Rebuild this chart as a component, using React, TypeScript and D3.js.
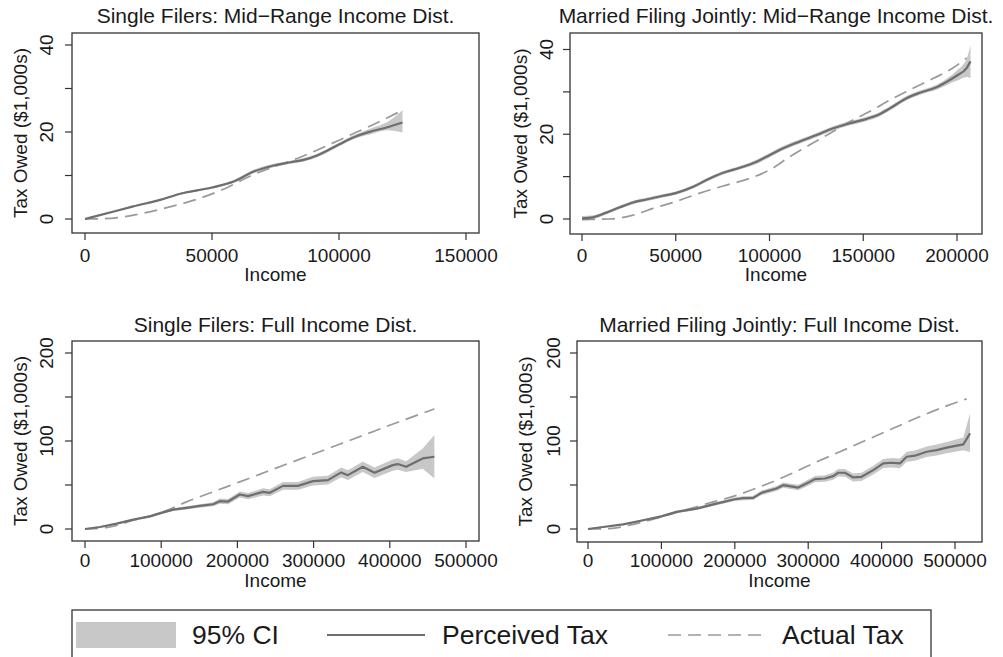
import React from "react";
import * as d3 from "d3";

// ---------- DATA ----------
// Panel 1: Single Filers, Mid-Range
const p1Income = [0, 9870, 19000, 29600, 37500, 50000, 58500, 66400, 74300, 80900, 86100, 91400, 100200, 105900, 112500, 119000, 125000];
const p1Perceived = [0, 1.5, 2.9, 4.4, 5.8, 7.25, 8.6, 10.9, 12.3, 13.05, 13.6, 14.6, 17.2, 18.8, 20.1, 21.1, 22.2];
const p1Lower = [-0.2, 1.3, 2.7, 4.2, 5.6, 7.0, 8.3, 10.5, 11.9, 12.7, 13.2, 14.2, 16.8, 18.4, 19.5, 20.4, 19.9];
const p1Upper = [0.2, 1.7, 3.1, 4.6, 6.0, 7.5, 8.9, 11.3, 12.7, 13.4, 14.0, 15.0, 17.6, 19.3, 20.8, 22.3, 25.0];
const p1ActualIncome = [0, 10000, 21650, 32200, 45400, 55900, 65100, 75700, 83500, 92800, 103300, 113800, 124300];
const p1Actual = [0, 0.15, 1.2, 2.6, 4.8, 7.2, 9.9, 12.3, 13.9, 16.2, 19.0, 21.8, 24.8];

// Panel 2: Married Filing Jointly, Mid-Range
const p2Income = [0, 5900, 13000, 20100, 27200, 34300, 41500, 50000, 59300, 66400, 75300, 84200, 93100, 100200, 107300, 116200, 125100, 134000, 142900, 150000, 157100, 164200, 173100, 180200, 189100, 195000, 199800, 205100, 207200];
const p2Perceived = [0.15, 0.4, 1.5, 2.75, 3.9, 4.6, 5.3, 6.1, 7.6, 9.2, 10.9, 12.1, 13.5, 15.1, 16.7, 18.3, 19.8, 21.4, 22.6, 23.4, 24.4, 26.1, 28.5, 29.8, 31.1, 32.5, 33.8, 35.6, 37.2];
const p2Lower = [-0.4, -0.1, 1.1, 2.35, 3.5, 4.2, 4.9, 5.7, 7.2, 8.8, 10.5, 11.7, 13.0, 14.6, 16.2, 17.8, 19.3, 20.9, 22.1, 22.9, 23.9, 25.6, 28.0, 29.3, 30.5, 31.7, 32.6, 33.5, 33.2];
const p2Upper = [0.7, 0.9, 1.9, 3.15, 4.3, 5.0, 5.7, 6.5, 8.0, 9.6, 11.3, 12.5, 14.0, 15.6, 17.2, 18.8, 20.3, 21.9, 23.1, 23.9, 24.9, 26.6, 29.0, 30.3, 31.7, 33.3, 35.0, 37.8, 41.0];
const p2ActualIncome = [0, 14800, 27200, 37900, 50000, 62800, 77000, 89500, 100200, 110800, 121500, 132200, 142900, 153600, 164200, 174900, 187400, 196300, 205100];
const p2Actual = [-0.1, 0, 0.9, 2.5, 4.1, 6.1, 8.0, 9.6, 11.6, 14.7, 17.5, 20.2, 23.0, 25.4, 28.1, 30.5, 33.2, 35.2, 38.0];

// Panel 3: Single Filers, Full
const p3Income = [0, 19700, 41500, 63300, 85200, 100000, 115700, 133200, 150700, 168100, 176900, 187800, 203100, 214000, 233600, 242400, 259800, 279500, 299100, 318800, 336200, 345000, 364600, 379900, 403900, 410500, 421400, 443200, 458500];
const p3Perceived = [0, 2.3, 6.1, 10.6, 14.4, 18.3, 22, 24, 26.2, 28.1, 31.6, 31.2, 39.2, 37.3, 42.2, 41.1, 49, 49, 54.4, 55.5, 64.3, 61.2, 70.7, 63.9, 72.6, 73.8, 70.7, 80.2, 82.1];
const p3Lower = [-0.3, 1.8, 5.3, 9.6, 13.2, 16.8, 20.5, 22.2, 24.2, 25.8, 28.6, 28.2, 35.7, 33.8, 38.2, 37.1, 44.5, 44.5, 49.4, 50.5, 58.8, 55.7, 64.7, 57.9, 66.1, 67.3, 64.7, 68.5, 57.4];
const p3Upper = [0.3, 2.8, 6.9, 11.6, 15.6, 19.8, 23.5, 25.8, 28.2, 30.4, 34.6, 34.2, 42.7, 40.8, 46.2, 45.1, 53.5, 53.5, 59.4, 60.5, 69.8, 66.7, 76.7, 69.9, 79.1, 80.3, 77.1, 91.5, 106.8];
const p3ActualIncome = [0, 32800, 63300, 100000, 133200, 168100, 203100, 238000, 272900, 307900, 342800, 377700, 412700, 458500];
const p3Actual = [0, 2.3, 9.9, 18.6, 30.8, 42.2, 53.6, 65, 76.4, 87.8, 99.2, 110.6, 122, 136.5];

// Panel 4: Married Filing Jointly, Full
const p4Income = [0, 20500, 47700, 75000, 100000, 120500, 147700, 175000, 200000, 211400, 225000, 236400, 256800, 265900, 286400, 297700, 309100, 322700, 334100, 340900, 350000, 361400, 372700, 388600, 402300, 413600, 425000, 434100, 445500, 461400, 475000, 488600, 511400, 520500];
const p4Perceived = [0, 2.3, 5.3, 9.9, 14.4, 19.4, 23.2, 28.9, 33.8, 35, 35.4, 41.1, 46, 49.8, 47.1, 51.7, 56.7, 57.4, 60.1, 63.9, 63.9, 58.6, 59.3, 66.9, 74.5, 75.3, 74.5, 82.1, 83.3, 87.8, 89.7, 92.4, 96.2, 108.7];
const p4Lower = [-0.4, 1.7, 4.5, 8.9, 13.2, 18.0, 21.6, 27.1, 31.8, 32.8, 33.0, 38.5, 43.2, 46.8, 43.9, 48.3, 53.1, 53.6, 56.1, 59.7, 59.5, 54.1, 54.6, 62.0, 69.4, 70.0, 69.0, 76.4, 77.5, 81.8, 83.5, 86.0, 89.5, 87.5];
const p4Upper = [0.4, 2.9, 6.1, 10.9, 15.6, 20.8, 24.8, 30.7, 35.8, 37.2, 37.8, 43.7, 48.8, 52.8, 50.3, 55.1, 60.3, 61.2, 64.1, 68.1, 68.3, 63.1, 64.0, 71.8, 79.6, 80.6, 80.0, 87.8, 89.1, 93.8, 95.9, 98.8, 104.0, 131.5];
const p4ActualIncome = [0, 29500, 61400, 100000, 134100, 170500, 200000, 234100, 270500, 306800, 343200, 379500, 415900, 452300, 488600, 515900];
const p4Actual = [0, 0.4, 5.3, 13.7, 22, 30.8, 37.6, 47.9, 60.5, 74.5, 87.8, 101.1, 114.4, 127.8, 139.9, 147.9];

const titles = [
  "Single Filers: Mid\u2212Range Income Dist.",
  "Married Filing Jointly: Mid\u2212Range Income Dist.",
  "Single Filers: Full Income Dist.",
  "Married Filing Jointly: Full Income Dist.",
];
const xTicksMid1 = [0, 50000, 100000, 150000];
const xTicksMid2 = [0, 50000, 100000, 150000, 200000];
const xTicksFull = [0, 100000, 200000, 300000, 400000, 500000];
const yMajorMid = [0, 20, 40];
const yMinorMid = [10, 30];
const yMajorFull = [0, 100, 200];
const yMinorFull = [50, 150];
const legendLabels = ["95% CI", "Perceived Tax", "Actual Tax"];

// ---------- STYLE ----------
const FONT = "'Liberation Sans', Arial, Helvetica, sans-serif";
const TXT = "#1a1a1a";
const AXIS = "#333";
const CI_FILL = "#c8c8c8";
const PERC = "#6e6e6e";
const ACT = "#9a9a9a";
const DASH = "13 7";

type PanelProps = {
  title: string;
  box: { l: number; t: number; r: number; b: number };
  xDom: [number, number];
  xRange: [number, number];
  yDom: [number, number];
  yRange: [number, number];
  xTicks: number[];
  yMajor: number[];
  yMinor: number[];
  income: number[];
  perceived: number[];
  lower: number[];
  upper: number[];
  actInc: number[];
  act: number[];
  smooth: boolean;
  titleY: number;
  tickY: number;
  incomeY: number;
  yLabX: number;
  yTitleX: number;
};

function Panel(p: PanelProps) {
  const x = d3.scaleLinear().domain(p.xDom).range(p.xRange);
  const y = d3.scaleLinear().domain(p.yDom).range(p.yRange);
  const curve = p.smooth ? d3.curveMonotoneX : d3.curveLinear;
  const idx = p.income.map((_, i) => i);
  const area = d3
    .area<number>()
    .x((i) => x(p.income[i]))
    .y0((i) => y(p.lower[i]))
    .y1((i) => y(p.upper[i]))
    .curve(curve);
  const line = d3
    .line<number>()
    .x((i) => x(p.income[i]))
    .y((i) => y(p.perceived[i]))
    .curve(curve);
  const actLine = d3
    .line<number>()
    .x((i) => x(p.actInc[i]))
    .y((i) => y(p.act[i]))
    .curve(d3.curveMonotoneX);
  const actIdx = p.actInc.map((_, i) => i);
  const { l, t, r, b } = p.box;
  const cx = (l + r) / 2;
  const cy = (t + b) / 2;
  return (
    <g>
      <text x={cx} y={p.titleY} textAnchor="middle" fontSize={21} fill={TXT} fontFamily={FONT}>
        {p.title}
      </text>
      <path d={area(idx) || ""} fill={CI_FILL} stroke="none" />
      <path d={actLine(actIdx) || ""} fill="none" stroke={ACT} strokeWidth={1.7} strokeDasharray={DASH} />
      <path d={line(idx) || ""} fill="none" stroke={PERC} strokeWidth={2.2} strokeLinejoin="round" />
      <rect x={l} y={t} width={r - l} height={b - t} fill="none" stroke={AXIS} strokeWidth={1.3} />
      {p.xTicks.map((v) => (
        <g key={"x" + v}>
          <line x1={x(v)} x2={x(v)} y1={b} y2={b + 7} stroke={AXIS} strokeWidth={1.2} />
          <text x={x(v)} y={p.tickY} textAnchor="middle" fontSize={19} fill={TXT} fontFamily={FONT}>
            {v}
          </text>
        </g>
      ))}
      {p.yMajor.map((v) => (
        <g key={"y" + v}>
          <line x1={l - 7} x2={l} y1={y(v)} y2={y(v)} stroke={AXIS} strokeWidth={1.2} />
          <text
            transform={`translate(${p.yLabX},${y(v)}) rotate(-90)`}
            textAnchor="middle"
            fontSize={19}
            fill={TXT}
            fontFamily={FONT}
          >
            {v}
          </text>
        </g>
      ))}
      {p.yMinor.map((v) => (
        <line key={"ym" + v} x1={l - 7} x2={l} y1={y(v)} y2={y(v)} stroke={AXIS} strokeWidth={1.2} />
      ))}
      <text x={cx} y={p.incomeY} textAnchor="middle" fontSize={19} fill={TXT} fontFamily={FONT}>
        Income
      </text>
      <text
        transform={`translate(${p.yTitleX},${cy}) rotate(-90)`}
        textAnchor="middle"
        fontSize={19}
        fill={TXT}
        fontFamily={FONT}
      >
        Tax Owed ($1,000s)
      </text>
    </g>
  );
}

export default function App() {
  return (
    <svg
      width={1003}
      height={657}
      viewBox="0 0 1003 657"
      style={{ position: "absolute", left: 0, top: 0, background: "#fff" }}
    >
      <rect x={0} y={0} width={1003} height={657} fill="#fff" />
      <Panel
        title={titles[0]}
        box={{ l: 72, t: 33, r: 479, b: 233 }}
        xDom={[0, 150000]}
        xRange={[85, 466]}
        yDom={[0, 40]}
        yRange={[219, 45]}
        xTicks={xTicksMid1}
        yMajor={yMajorMid}
        yMinor={yMinorMid}
        income={p1Income}
        perceived={p1Perceived}
        lower={p1Lower}
        upper={p1Upper}
        actInc={p1ActualIncome}
        act={p1Actual}
        smooth={true}
        titleY={23}
        tickY={262}
        incomeY={281}
        yLabX={53}
        yTitleX={27}
      />
      <Panel
        title={titles[1]}
        box={{ l: 570, t: 33, r: 982, b: 234 }}
        xDom={[0, 200000]}
        xRange={[582, 957]}
        yDom={[0, 40]}
        yRange={[219, 49.5]}
        xTicks={xTicksMid2}
        yMajor={yMajorMid}
        yMinor={yMinorMid}
        income={p2Income}
        perceived={p2Perceived}
        lower={p2Lower}
        upper={p2Upper}
        actInc={p2ActualIncome}
        act={p2Actual}
        smooth={true}
        titleY={23}
        tickY={262}
        incomeY={281}
        yLabX={553}
        yTitleX={527}
      />
      <Panel
        title={titles[2]}
        box={{ l: 72, t: 341, r: 479, b: 541 }}
        xDom={[0, 500000]}
        xRange={[85, 466]}
        yDom={[0, 200]}
        yRange={[529, 353]}
        xTicks={xTicksFull}
        yMajor={yMajorFull}
        yMinor={yMinorFull}
        income={p3Income}
        perceived={p3Perceived}
        lower={p3Lower}
        upper={p3Upper}
        actInc={p3ActualIncome}
        act={p3Actual}
        smooth={false}
        titleY={332}
        tickY={567}
        incomeY={587}
        yLabX={53}
        yTitleX={27}
      />
      <Panel
        title={titles[3]}
        box={{ l: 577, t: 341, r: 982, b: 542 }}
        xDom={[0, 500000]}
        xRange={[588, 955]}
        yDom={[0, 200]}
        yRange={[529, 353]}
        xTicks={xTicksFull}
        yMajor={yMajorFull}
        yMinor={yMinorFull}
        income={p4Income}
        perceived={p4Perceived}
        lower={p4Lower}
        upper={p4Upper}
        actInc={p4ActualIncome}
        act={p4Actual}
        smooth={false}
        titleY={332}
        tickY={567}
        incomeY={587}
        yLabX={560}
        yTitleX={532}
      />
      {/* Legend */}
      <g>
        <rect x={72} y={610} width={859} height={70} fill="#fff" stroke={AXIS} strokeWidth={1.3} />
        <rect x={76} y={622} width={100} height={26} fill={CI_FILL} />
        <text x={192} y={644} fontSize={26.5} fill={TXT} fontFamily={FONT}>
          {legendLabels[0]}
        </text>
        <line x1={327} x2={425} y1={635} y2={635} stroke={PERC} strokeWidth={2} />
        <text x={442} y={644} fontSize={26.5} fill={TXT} fontFamily={FONT}>
          {legendLabels[1]}
        </text>
        <line x1={668} x2={768} y1={635} y2={635} stroke={ACT} strokeWidth={1.7} strokeDasharray="13 7" />
        <text x={782} y={644} fontSize={26.5} fill={TXT} fontFamily={FONT}>
          {legendLabels[2]}
        </text>
      </g>
    </svg>
  );
}
